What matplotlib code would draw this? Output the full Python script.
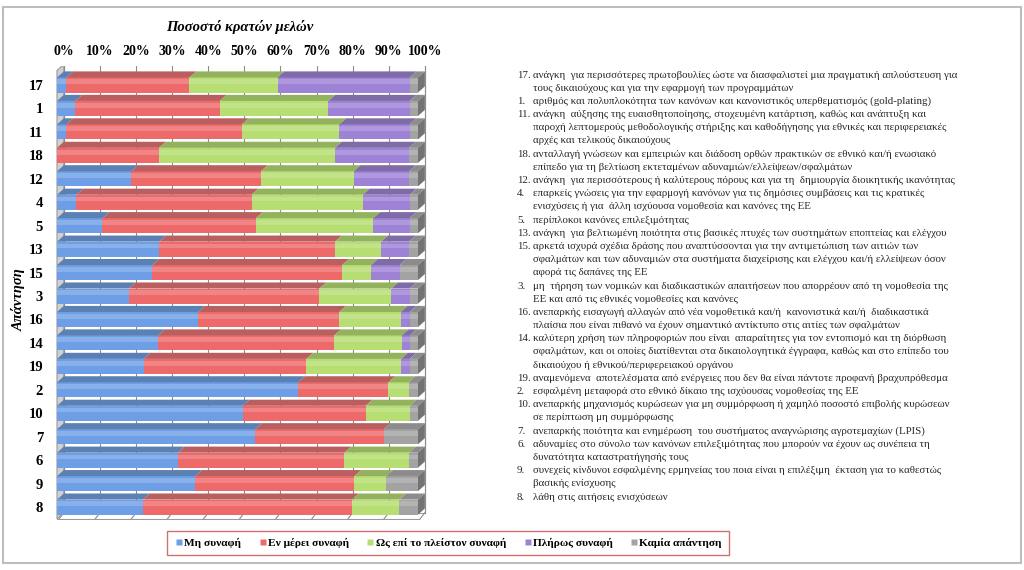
import matplotlib
matplotlib.use("Agg")
import matplotlib.pyplot as plt
from matplotlib.patches import Polygon, Rectangle
from matplotlib.lines import Line2D

plt.rcParams["font.family"] = ["Liberation Serif", "DejaVu Serif"]

# --- data (% of member states) ---
labels = ["17", "1", "11", "18", "12", "4", "5", "13", "15", "3",
          "16", "14", "19", "2", "10", "7", "6", "9", "8"]
mi_synafi = [2.6, 5.1, 2.6, 0.0, 20.6, 5.4, 12.6, 28.3, 26.4, 19.9,
             39.1, 28.0, 24.0, 66.8, 51.4, 54.9, 33.5, 38.3, 23.8]
en_merei = [34.1, 40.0, 48.6, 28.3, 35.9, 48.5, 42.5, 48.7, 52.6, 52.8,
            39.1, 48.8, 45.1, 25.0, 34.1, 35.6, 46.1, 44.1, 57.9]
os_epi = [24.4, 30.1, 27.0, 48.7, 25.7, 30.8, 32.5, 12.8, 8.0, 19.9,
          17.0, 18.7, 26.2, 5.6, 12.2, 0.0, 17.9, 8.8, 13.1]
plirws = [36.6, 22.5, 19.5, 20.5, 15.3, 13.0, 10.1, 7.7, 7.9, 5.1,
          2.5, 2.2, 2.4, 0.0, 0.0, 0.0, 0.0, 0.0, 0.0]
kamia = [2.3, 2.3, 2.3, 2.5, 2.5, 2.3, 2.3, 2.5, 5.1, 2.3,
         2.3, 2.3, 2.3, 2.6, 2.3, 9.5, 2.5, 8.8, 5.2]
series_names = ["Μη συναφή", "Εν μέρει συναφή", "Ως επί το πλείστον συναφή",
                "Πλήρως συναφή", "Καμία απάντηση"]
x_ticks = [0, 10, 20, 30, 40, 50, 60, 70, 80, 90, 100]

descriptions = [
    ("17.", ["ανάγκη  για περισσότερες πρωτοβουλίες ώστε να διασφαλιστεί μια πραγματική απλούστευση για",
             "τους δικαιούχους και για την εφαρμογή των προγραμμάτων"]),
    ("1.", ["αριθμός και πολυπλοκότητα των κανόνων και κανονιστικός υπερθεματισμός (gold-plating)"]),
    ("11.", ["ανάγκη  αύξησης της ευαισθητοποίησης, στοχευμένη κατάρτιση, καθώς και ανάπτυξη και",
             "παροχή λεπτομερούς μεθοδολογικής στήριξης και καθοδήγησης για εθνικές και περιφερειακές",
             "αρχές και τελικούς δικαιούχους"]),
    ("18.", ["ανταλλαγή γνώσεων και εμπειριών και διάδοση ορθών πρακτικών σε εθνικό και/ή ενωσιακό",
             "επίπεδο για τη βελτίωση εκτεταμένων αδυναμιών/ελλείψεων/σφαλμάτων"]),
    ("12.", ["ανάγκη  για περισσότερους ή καλύτερους πόρους και για τη  δημιουργία διοικητικής ικανότητας"]),
    ("4.", ["επαρκείς γνώσεις για την εφαρμογή κανόνων για τις δημόσιες συμβάσεις και τις κρατικές",
            "ενισχύσεις ή για  άλλη ισχύουσα νομοθεσία και κανόνες της ΕΕ"]),
    ("5.", ["περίπλοκοι κανόνες επιλεξιμότητας"]),
    ("13.", ["ανάγκη  για βελτιωμένη ποιότητα στις βασικές πτυχές των συστημάτων εποπτείας και ελέγχου"]),
    ("15.", ["αρκετά ισχυρά σχέδια δράσης που αναπτύσσονται για την αντιμετώπιση των αιτιών των",
             "σφαλμάτων και των αδυναμιών στα συστήματα διαχείρισης και ελέγχου και/ή ελλείψεων όσον",
             "αφορά τις δαπάνες της ΕΕ"]),
    ("3.", ["μη  τήρηση των νομικών και διαδικαστικών απαιτήσεων που απορρέουν από τη νομοθεσία της",
            "ΕΕ και από τις εθνικές νομοθεσίες και κανόνες"]),
    ("16.", ["ανεπαρκής εισαγωγή αλλαγών από νέα νομοθετικά και/ή  κανονιστικά και/ή  διαδικαστικά",
             "πλαίσια που είναι πιθανό να έχουν σημαντικό αντίκτυπο στις αιτίες των σφαλμάτων"]),
    ("14.", ["καλύτερη χρήση των πληροφοριών που είναι  απαραίτητες για τον εντοπισμό και τη διόρθωση",
             "σφαλμάτων, και οι οποίες διατίθενται στα δικαιολογητικά έγγραφα, καθώς και στο επίπεδο του",
             "δικαιούχου ή εθνικού/περιφερειακού οργάνου"]),
    ("19.", ["αναμενόμενα  αποτελέσματα από ενέργειες που δεν θα είναι πάντοτε προφανή βραχυπρόθεσμα"]),
    ("2.", ["εσφαλμένη μεταφορά στο εθνικό δίκαιο της ισχύουσας νομοθεσίας της ΕΕ"]),
    ("10.", ["ανεπαρκής μηχανισμός κυρώσεων για μη συμμόρφωση ή χαμηλό ποσοστό επιβολής κυρώσεων",
             "σε περίπτωση μη συμμόρφωσης"]),
    ("7.", ["ανεπαρκής ποιότητα και ενημέρωση  του συστήματος αναγνώρισης αγροτεμαχίων (LPIS)"]),
    ("6.", ["αδυναμίες στο σύνολο των κανόνων επιλεξιμότητας που μπορούν να έχουν ως συνέπεια τη",
            "δυνατότητα καταστρατήγησής τους"]),
    ("9.", ["συνεχείς κίνδυνοι εσφαλμένης ερμηνείας του ποια είναι η επιλέξιμη  έκταση για το καθεστώς",
            "βασικής ενίσχυσης"]),
    ("8.", ["λάθη στις αιτήσεις ενισχύσεων"]),
]

front = ["#6E9FE6", "#EE6A6A", "#B6DE72", "#9E82D6", "#A3A3A3"]
top = ["#5B80B4", "#B95F5F", "#93B25E", "#7F6CA6", "#8C8C8C"]

W, H = 1024, 570
DX, DY = 1.9, 0.26      # 3d depth offset (in % and rows)
BH = 0.64               # bar thickness

fig = plt.figure(figsize=(W / 100, H / 100), dpi=100)
fig.patches.append(Rectangle((3 / W, 7 / H), 1018 / W, 556 / H, transform=fig.transFigure,
                             fill=False, edgecolor="#BDBDBD", lw=1.5))

x_lo = -(57 - 50) / 3.61
x_hi = (434 - 57) / 3.61
ax = fig.add_axes([50 / W, 1 - 520 / H, (434 - 50) / W, (520 - 66) / H])
n = len(labels)
y_top = -0.5 - DY - 0.12
y_bot = n - 0.5
ax.set_xlim(x_lo, x_hi)
ax.set_ylim((520 - 85) / 23.45, (66 - 85) / 23.45)
for s in ax.spines.values():
    s.set_visible(False)

# walls: back wall grid, left wall, floor
ax.add_patch(Polygon([(0, y_bot), (DX, y_bot - DY), (DX, y_top), (0, y_top + DY)],
                     closed=True, facecolor="#D0D0D0", edgecolor="#9A9A9A", lw=0.8, zorder=1))
ax.add_patch(Polygon([(DX, y_top), (100 + DX, y_top), (100 + DX, y_bot - DY), (DX, y_bot - DY)],
                     closed=True, facecolor="white", edgecolor="#9A9A9A", lw=0.8, zorder=1))
for t in x_ticks:
    ax.plot([t + DX, t + DX], [y_top, y_bot - DY], color="#8C8C8C", lw=0.8, zorder=1.5)
    ax.plot([t - 0.4, t + DX], [y_bot + 0.2, y_bot - DY], color="#8C8C8C", lw=0.8, zorder=1.5)
ax.plot([0, 100], [y_bot, y_bot], color="#9A9A9A", lw=0.8, zorder=1.5)

ypos = list(range(n))
data = [mi_synafi, en_merei, os_epi, plirws, kamia]
left = [0.0] * n
for k, vals in enumerate(data):
    ax.barh(ypos, vals, left=left, height=BH, color=front[k], edgecolor="none", zorder=3)
    for i in range(n):
        if vals[i] <= 0:
            continue
        x0, x1 = left[i], left[i] + vals[i]
        yt = i - BH / 2
        ax.add_patch(Polygon([(x0, yt), (x1, yt), (x1 + DX, yt - DY), (x0 + DX, yt - DY)],
                             closed=True, facecolor=top[k], edgecolor="none", zorder=3))
        # soft highlight on upper part of the front face
        ax.add_patch(Rectangle((x0, yt + 0.08), vals[i], BH * 0.32, facecolor="white",
                               alpha=0.18, edgecolor="none", zorder=3.5))
    left = [a + b for a, b in zip(left, vals)]

for i in range(n):
    yt, yb = i - BH / 2, i + BH / 2
    ax.add_patch(Polygon([(left[i], yt), (left[i] + DX, yt - DY), (left[i] + DX, yb - DY), (left[i], yb)],
                         closed=True, facecolor="#737373", edgecolor="none", zorder=3))

ax.set_yticks(ypos)
ax.set_yticklabels(labels, fontsize=10.5, fontweight="bold")
ax.tick_params(axis="y", length=0, pad=5)
ax.xaxis.tick_top()
ax.set_xticks([t + DX for t in x_ticks])
ax.set_xticklabels([f"{t}%" for t in x_ticks], fontsize=10, fontweight="bold")
ax.tick_params(axis="x", length=0, pad=6)

fig.text(240 / W, 1 - 27 / H, "Ποσοστό κρατών μελών", ha="center", va="center",
         fontsize=10.5, fontweight="bold", fontstyle="italic")
fig.text(19 / W, 1 - 300 / H, "Απάντηση", ha="center", va="center", rotation=90,
         fontsize=10.5, fontweight="bold", fontstyle="italic")

# description list on the right
line_h = 13.19
row = 0
for num, lines in descriptions:
    for j, ln in enumerate(lines):
        yy = 1 - (75 + row * line_h) / H
        if j == 0:
            fig.text(517 / W, yy, num, ha="left", va="center", fontsize=7.8, color="#262626")
        fig.text(533 / W, yy, ln, ha="left", va="center", fontsize=7.8, color="#262626")
        row += 1

handles = [Line2D([], [], marker="s", ls="none", markersize=4.5, markerfacecolor=c,
                  markeredgecolor="none") for c in front]
leg = fig.legend(handles, series_names, loc="center", bbox_to_anchor=(448 / W, 1 - 543 / H),
                 ncol=5, frameon=True, fancybox=False, edgecolor="#C0504D",
                 prop={"weight": "bold", "size": 8.2}, handletextpad=0.05,
                 columnspacing=1.5, handlelength=0.8, borderpad=0.6)
leg.get_frame().set_linewidth(1.0)

fig.savefig("out.png", dpi=100)
